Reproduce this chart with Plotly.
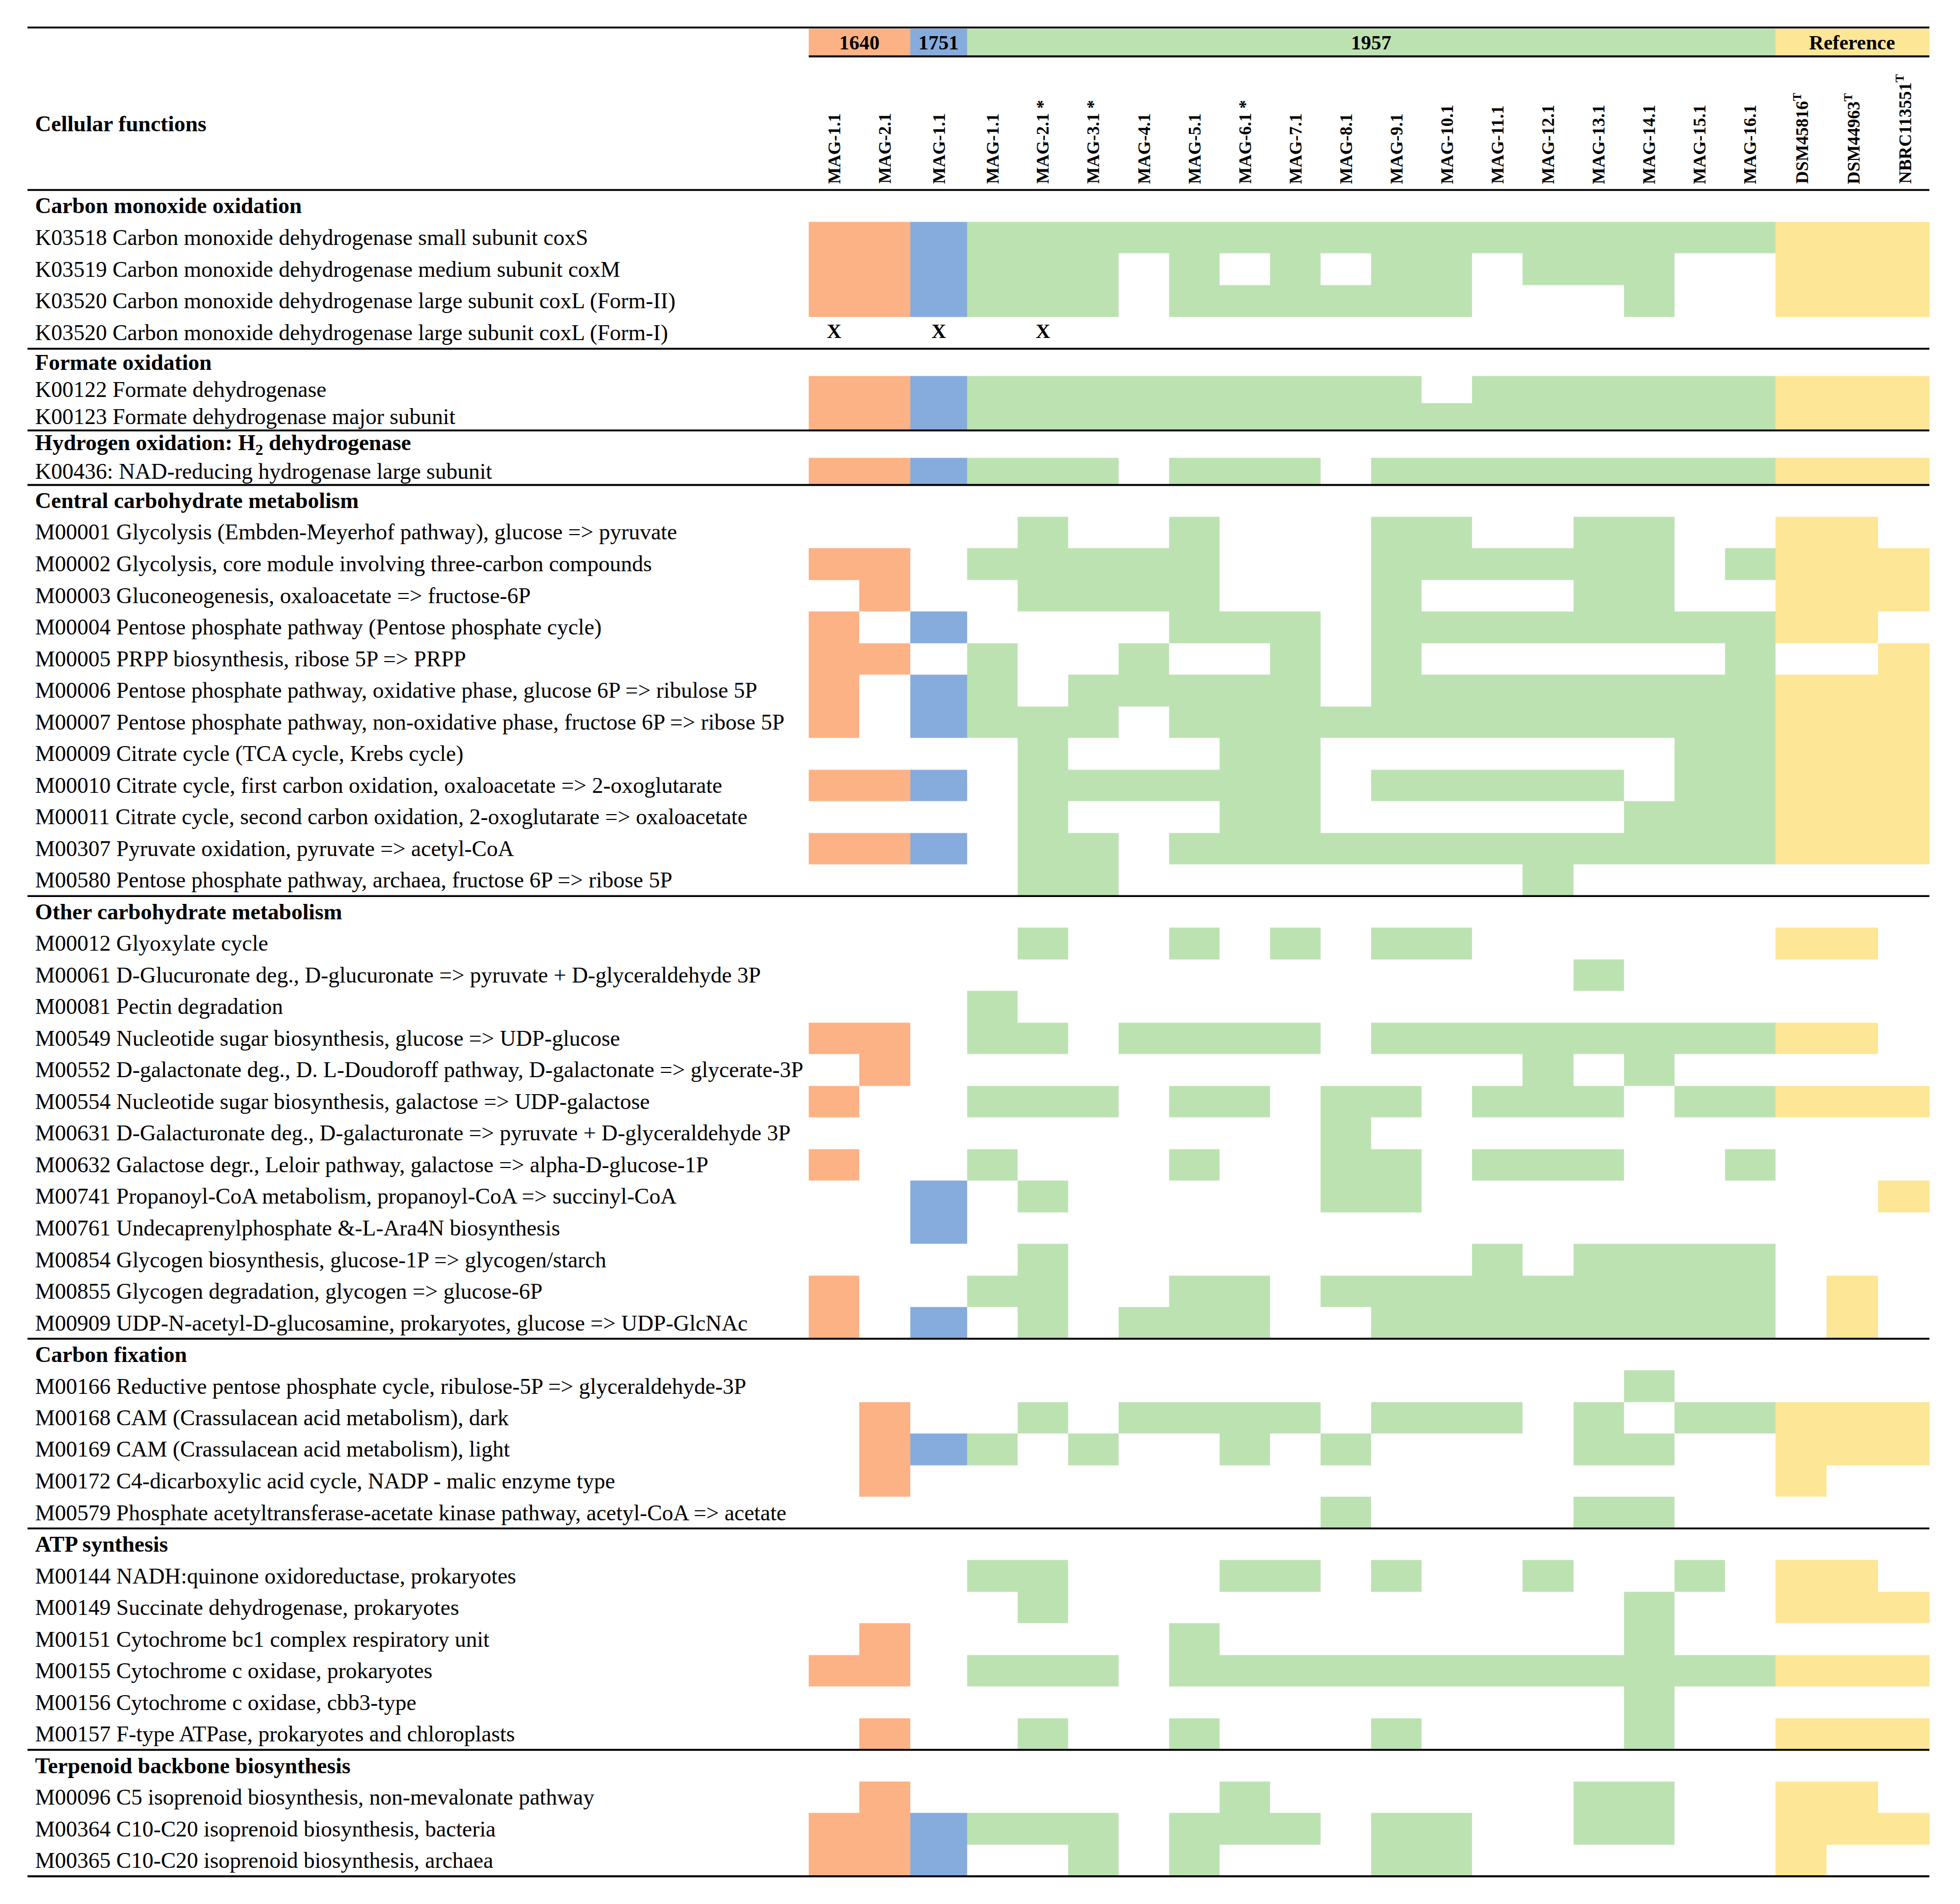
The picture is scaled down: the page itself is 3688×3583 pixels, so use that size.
import plotly.graph_objects as go

# ------------------------------------------------------------------ data
group_names = ["1640", "1751", "1957", "Reference"]
column_groups = ["1640"] * 2 + ["1751"] + ["1957"] * 16 + ["Reference"] * 3
column_labels = [
    "MAG-1.1", "MAG-2.1", "MAG-1.1", "MAG-1.1", "MAG-2.1 *", "MAG-3.1 *",
    "MAG-4.1", "MAG-5.1", "MAG-6.1 *", "MAG-7.1", "MAG-8.1", "MAG-9.1",
    "MAG-10.1", "MAG-11.1", "MAG-12.1", "MAG-13.1", "MAG-14.1", "MAG-15.1",
    "MAG-16.1", "DSM45816<sup>T</sup>", "DSM44963<sup>T</sup>", "NBRC113551<sup>T</sup>",
]

# '1' = function present (cell coloured with the group colour), 'x' = marked with X
co_title = "Carbon monoxide oxidation"
co_labels = [
    "K03518 Carbon monoxide dehydrogenase small subunit coxS",
    "K03519 Carbon monoxide dehydrogenase medium subunit coxM",
    "K03520 Carbon monoxide dehydrogenase large subunit coxL (Form-II)",
    "K03520 Carbon monoxide dehydrogenase large subunit coxL (Form-I)",
]
co_rows = [
    "1111111111111111111111",
    "1111110101011011100111",
    "1111110111111000100111",
    "x0x0x00000000000000000",
]

formate_title = "Formate oxidation"
formate_labels = [
    "K00122 Formate dehydrogenase",
    "K00123 Formate dehydrogenase major subunit",
]
formate_rows = [
    "1111111111110111111111",
    "1111111111111111111111",
]

hydrogen_title = "Hydrogen oxidation: H<sub>2</sub> dehydrogenase"
hydrogen_labels = ["K00436: NAD-reducing hydrogenase large subunit"]
hydrogen_rows = ["1111110111011111111111"]

central_title = "Central carbohydrate metabolism"
central_labels = [
    "M00001 Glycolysis (Embden-Meyerhof pathway), glucose => pyruvate",
    "M00002 Glycolysis, core module involving three-carbon compounds",
    "M00003 Gluconeogenesis, oxaloacetate => fructose-6P",
    "M00004 Pentose phosphate pathway (Pentose phosphate cycle)",
    "M00005 PRPP biosynthesis, ribose 5P => PRPP",
    "M00006 Pentose phosphate pathway, oxidative phase, glucose 6P => ribulose 5P",
    "M00007 Pentose phosphate pathway, non-oxidative phase, fructose 6P => ribose 5P",
    "M00009 Citrate cycle (TCA cycle, Krebs cycle)",
    "M00010 Citrate cycle, first carbon oxidation, oxaloacetate => 2-oxoglutarate",
    "M00011 Citrate cycle, second carbon oxidation, 2-oxoglutarate => oxaloacetate",
    "M00307 Pyruvate oxidation, pyruvate => acetyl-CoA",
    "M00580 Pentose phosphate pathway, archaea, fructose 6P => ribose 5P",
]
central_rows = [
    "0000100100011001100110",
    "1101111100011111101111",
    "0100111100010001100111",
    "1010000111011111111110",
    "1101001001010000001001",
    "1011011111011111111111",
    "1011110111111111111111",
    "0000100011000000011111",
    "1110111111011111011111",
    "0000100011000000111111",
    "1110110111111111111111",
    "0000110000000010000000",
]

other_title = "Other carbohydrate metabolism"
other_labels = [
    "M00012 Glyoxylate cycle",
    "M00061 D-Glucuronate deg., D-glucuronate => pyruvate + D-glyceraldehyde 3P",
    "M00081 Pectin degradation",
    "M00549 Nucleotide sugar biosynthesis, glucose => UDP-glucose",
    "M00552 D-galactonate deg., D. L-Doudoroff pathway, D-galactonate => glycerate-3P",
    "M00554 Nucleotide sugar biosynthesis, galactose => UDP-galactose",
    "M00631 D-Galacturonate deg., D-galacturonate => pyruvate + D-glyceraldehyde 3P",
    "M00632 Galactose degr., Leloir pathway, galactose => alpha-D-glucose-1P",
    "M00741 Propanoyl-CoA metabolism, propanoyl-CoA => succinyl-CoA",
    "M00761 Undecaprenylphosphate &-L-Ara4N biosynthesis",
    "M00854 Glycogen biosynthesis, glucose-1P => glycogen/starch",
    "M00855 Glycogen degradation, glycogen => glucose-6P",
    "M00909 UDP-N-acetyl-D-glucosamine, prokaryotes, glucose => UDP-GlcNAc",
]
other_rows = [
    "0000100101011000000110",
    "0000000000000001000000",
    "0001000000000000000000",
    "1101101111011111111110",
    "0100000000000010100000",
    "1001110110110111011111",
    "0000000000100000000000",
    "1001000100110111001000",
    "0010100000110000000001",
    "0010000000000000000000",
    "0000100000000101111000",
    "1001100110111111111010",
    "1010101110011111111010",
]

fixation_title = "Carbon fixation"
fixation_labels = [
    "M00166 Reductive pentose phosphate cycle, ribulose-5P => glyceraldehyde-3P",
    "M00168 CAM (Crassulacean acid metabolism), dark",
    "M00169 CAM (Crassulacean acid metabolism), light",
    "M00172 C4-dicarboxylic acid cycle, NADP - malic enzyme type",
    "M00579 Phosphate acetyltransferase-acetate kinase pathway, acetyl-CoA => acetate",
]
fixation_rows = [
    "0000000000000000100000",
    "0100101111011101011111",
    "0111010010100001100111",
    "0100000000000000000100",
    "0000000000100001100000",
]

atp_title = "ATP synthesis"
atp_labels = [
    "M00144 NADH:quinone oxidoreductase, prokaryotes",
    "M00149 Succinate dehydrogenase, prokaryotes",
    "M00151 Cytochrome bc1 complex respiratory unit",
    "M00155 Cytochrome c oxidase, prokaryotes",
    "M00156 Cytochrome c oxidase, cbb3-type",
    "M00157 F-type ATPase, prokaryotes and chloroplasts",
]
atp_rows = [
    "0001100011010010010110",
    "0000100000000000100111",
    "0100000100000000100000",
    "1101110111111111111111",
    "0000000000000000100000",
    "0100100100010000100111",
]

terpenoid_title = "Terpenoid backbone biosynthesis"
terpenoid_labels = [
    "M00096 C5 isoprenoid biosynthesis, non-mevalonate pathway",
    "M00364 C10-C20 isoprenoid biosynthesis, bacteria",
    "M00365 C10-C20 isoprenoid biosynthesis, archaea",
]
terpenoid_rows = [
    "0100000010000001100110",
    "1111110111011001100111",
    "1110010100011000000100",
]

sections = [
    (co_title, co_labels, co_rows),
    (formate_title, formate_labels, formate_rows),
    (hydrogen_title, hydrogen_labels, hydrogen_rows),
    (central_title, central_labels, central_rows),
    (other_title, other_labels, other_rows),
    (fixation_title, fixation_labels, fixation_rows),
    (atp_title, atp_labels, atp_rows),
    (terpenoid_title, terpenoid_labels, terpenoid_rows),
]

# ------------------------------------------------------------------ layout / style
W, H = 3688, 3583
S = W / 1568.0                      # design units -> pixels
group_colors = {"1640": "#FCB285", "1751": "#86ACDD", "1957": "#BDE2B2", "Reference": "#FEE697"}
group_code = {g: i + 1 for i, g in enumerate(group_names)}
col_widths = [40.6, 40.6, 45.6] + [40.4] * 16 + [41.1] * 3
section_pitch = [25.4, 21.8, 21.8, 25.3, 25.3, 25.3, 25.3, 25.3]
FONT = "Liberation Serif"
LEFT, TEXT_X, GRID_X0 = 22, 27, 647
TOP_LINE, BAND_TOP, BAND_BOT, HEAD_BOT, LABEL_BOTTOM = 22, 23, 44.6, 152, 148
ROW_FS, HEAD_FS, COL_FS, BAND_FS = 42, 42, 33, 38
LINE_W = 3.6

x_edges = [GRID_X0]
for w in col_widths:
    x_edges.append(x_edges[-1] + w)
RIGHT = x_edges[-1]
x_centers = [(a + b) / 2 * S for a, b in zip(x_edges[:-1], x_edges[1:])]
xe = [v * S for v in x_edges]

# rows
y = HEAD_BOT
y_edges = [y]
z = []
annotations = []
section_bottoms = []
mark_x, mark_y = [], []
for (title, labels, rows), pitch in zip(sections, section_pitch):
    annotations.append(dict(x=TEXT_X * S, y=(y + pitch / 2) * S, text="<b>%s</b>" % title,
                            xanchor="left", yanchor="middle", showarrow=False,
                            font=dict(family=FONT, size=HEAD_FS, color="black")))
    y += pitch
    y_edges.append(y)
    z.append([None] * len(column_groups))
    for lab, row in zip(labels, rows):
        yc = (y + pitch / 2) * S
        annotations.append(dict(x=TEXT_X * S, y=yc, text=lab, xanchor="left", yanchor="middle",
                                showarrow=False, font=dict(family=FONT, size=ROW_FS, color="black")))
        zr = []
        for j, ch in enumerate(row):
            zr.append(group_code[column_groups[j]] if ch == "1" else None)
            if ch == "x":
                mark_x.append(x_centers[j])
                mark_y.append(yc)
        z.append(zr)
        y += pitch
        y_edges.append(y)
    section_bottoms.append(y)
ye = [v * S for v in y_edges]

cs = [[0.0, group_colors["1640"]], [0.25, group_colors["1640"]],
      [0.25, group_colors["1751"]], [0.5, group_colors["1751"]],
      [0.5, group_colors["1957"]], [0.75, group_colors["1957"]],
      [0.75, group_colors["Reference"]], [1.0, group_colors["Reference"]]]

fig = go.Figure()
fig.add_trace(go.Heatmap(x=xe, y=ye, z=z, zmin=0.5, zmax=4.5, colorscale=cs,
                         showscale=False, hoverinfo="skip", xgap=0, ygap=0))
# group band
fig.add_trace(go.Heatmap(x=xe, y=[BAND_TOP * S, BAND_BOT * S],
                         z=[[group_code[g] for g in column_groups]], zmin=0.5, zmax=4.5,
                         colorscale=cs, showscale=False, hoverinfo="skip"))
# X markers
fig.add_trace(go.Scatter(x=mark_x, y=mark_y, mode="text", text=["X"] * len(mark_x),
                         textposition="middle center", hoverinfo="skip",
                         textfont=dict(family=FONT, size=38, color="black", weight="bold")))

# band labels
for g in group_names:
    idx = [j for j, gg in enumerate(column_groups) if gg == g]
    xc = (xe[idx[0]] + xe[idx[-1] + 1]) / 2
    annotations.append(dict(x=xc, y=(BAND_TOP + BAND_BOT) / 2 * S, text="<b>%s</b>" % g,
                            showarrow=False, xanchor="center", yanchor="middle",
                            font=dict(family=FONT, size=BAND_FS, color="black")))
# column labels
for j, lab in enumerate(column_labels):
    annotations.append(dict(x=x_centers[j], y=LABEL_BOTTOM * S, text="<b>%s</b>" % lab,
                            textangle=-90, showarrow=False, xanchor="center", yanchor="bottom",
                            font=dict(family=FONT, size=COL_FS, color="black")))
annotations.append(dict(x=TEXT_X * S, y=99 * S, text="<b>Cellular functions</b>", showarrow=False,
                        xanchor="left", yanchor="middle",
                        font=dict(family=FONT, size=HEAD_FS, color="black")))

shapes = []
def hline(yv, x0, x1):
    shapes.append(dict(type="line", xref="x", yref="y", x0=x0 * S, x1=x1 * S, y0=yv * S, y1=yv * S,
                       line=dict(color="black", width=LINE_W)))

hline(TOP_LINE, LEFT, RIGHT)
hline(BAND_BOT + 0.5, GRID_X0, RIGHT)
hline(HEAD_BOT, LEFT, RIGHT)
for yb in section_bottoms:
    hline(yb, LEFT, RIGHT)

fig.update_layout(
    width=W, height=H, margin=dict(l=0, r=0, t=0, b=0),
    paper_bgcolor="white", plot_bgcolor="white", showlegend=False,
    xaxis=dict(range=[0, W], visible=False, fixedrange=True),
    yaxis=dict(range=[H, 0], visible=False, fixedrange=True),
    annotations=annotations, shapes=shapes,
)
fig.write_html("out.html", config={"displayModeBar": False},
               post_script="document.body.style.margin='0px';document.body.style.overflow='hidden';")
